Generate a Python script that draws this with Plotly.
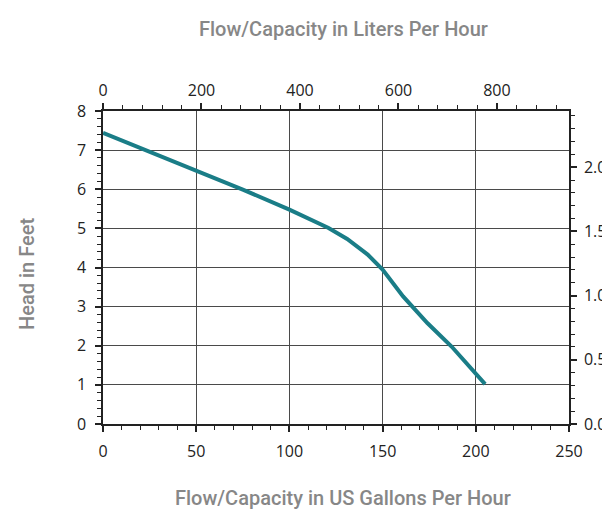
import plotly.graph_objects as go

# Pump curve data
flow_gph = [0, 50, 75, 100, 121, 131, 142, 150, 161, 174, 187, 205]
head_ft = [7.44, 6.48, 5.99, 5.48, 5.01, 4.73, 4.33, 3.95, 3.26, 2.58, 1.98, 1.02]

GAL_TO_L = 3.78541
FT_TO_M = 0.3048

x_range_gph = [0, 250]
y_range_ft = [0, 8]

title_top = "Flow/Capacity in Liters Per Hour"
title_bottom = "Flow/Capacity in US Gallons Per Hour"
title_left = "Head in Feet"

W, H = 610, 512
L, R, T, B = 95, 43, 103, 96
pw, ph = W - L - R, H - T - B

def px_x(px):
    return (px - L) / pw

def px_y(py):
    return (H - B - py) / ph

tick_font = dict(family="Open Sans, DejaVu Sans, sans-serif", size=16, color="#222222")
title_font = dict(family="Roboto, sans-serif", size=20, color="#878787", weight=500)

fig = go.Figure()
fig.add_trace(go.Scatter(
    x=flow_gph, y=head_ft, mode="lines",
    line=dict(color="#1a7d87", width=4),
    showlegend=False, hoverinfo="skip",
))
fig.add_trace(go.Scatter(
    x=[v * GAL_TO_L for v in flow_gph], y=[v * FT_TO_M for v in head_ft],
    xaxis="x2", yaxis="y2", mode="lines", opacity=0,
    showlegend=False, hoverinfo="skip",
))

axis_common = dict(
    ticks="outside", ticklen=6, tickwidth=1.5, tickcolor="#222222",
    showline=True, linecolor="#222222", linewidth=1.5,
    zeroline=False, tickfont=tick_font, fixedrange=True,
)

def minor(d):
    return dict(dtick=d, ticks="outside", ticklen=4, tickwidth=1.2,
                tickcolor="#222222", showgrid=False)

fig.update_layout(
    width=W, height=H,
    margin=dict(l=L, r=R, t=T, b=B),
    paper_bgcolor="white", plot_bgcolor="white",
    xaxis=dict(range=x_range_gph, dtick=50, tick0=0, minor=minor(10),
               showgrid=True, gridcolor="#4a4a4a", gridwidth=1,
               ticklabelstandoff=6, **axis_common),
    xaxis2=dict(range=[x_range_gph[0] * GAL_TO_L, x_range_gph[1] * GAL_TO_L],
                overlaying="x", side="top", anchor="y", dtick=200, tick0=0,
                minor=minor(40), showgrid=False, ticklabelstandoff=1, **axis_common),
    yaxis=dict(range=y_range_ft, dtick=1, tick0=0, minor=minor(0.2),
               showgrid=True, gridcolor="#4a4a4a", gridwidth=1,
               ticklabelstandoff=6, **axis_common),
    yaxis2=dict(range=[y_range_ft[0] * FT_TO_M, y_range_ft[1] * FT_TO_M],
                overlaying="y", side="right", anchor="x", dtick=0.5, tick0=0,
                tickformat=".1f", minor=minor(0.1),
                showgrid=False, ticklabelstandoff=4, **axis_common),
    annotations=[
        dict(text=title_top, xref="paper", yref="paper", x=px_x(339), y=px_y(21),
             xanchor="center", yanchor="middle", showarrow=False, font=title_font),
        dict(text=title_bottom, xref="paper", yref="paper", x=px_x(338), y=px_y(490),
             xanchor="center", yanchor="middle", showarrow=False, font=title_font),
        dict(text=title_left, xref="paper", yref="paper", x=px_x(18), y=px_y(266),
             xanchor="center", yanchor="middle", textangle=-90, showarrow=False, font=title_font),
    ],
)

fig.write_html("out.html")
